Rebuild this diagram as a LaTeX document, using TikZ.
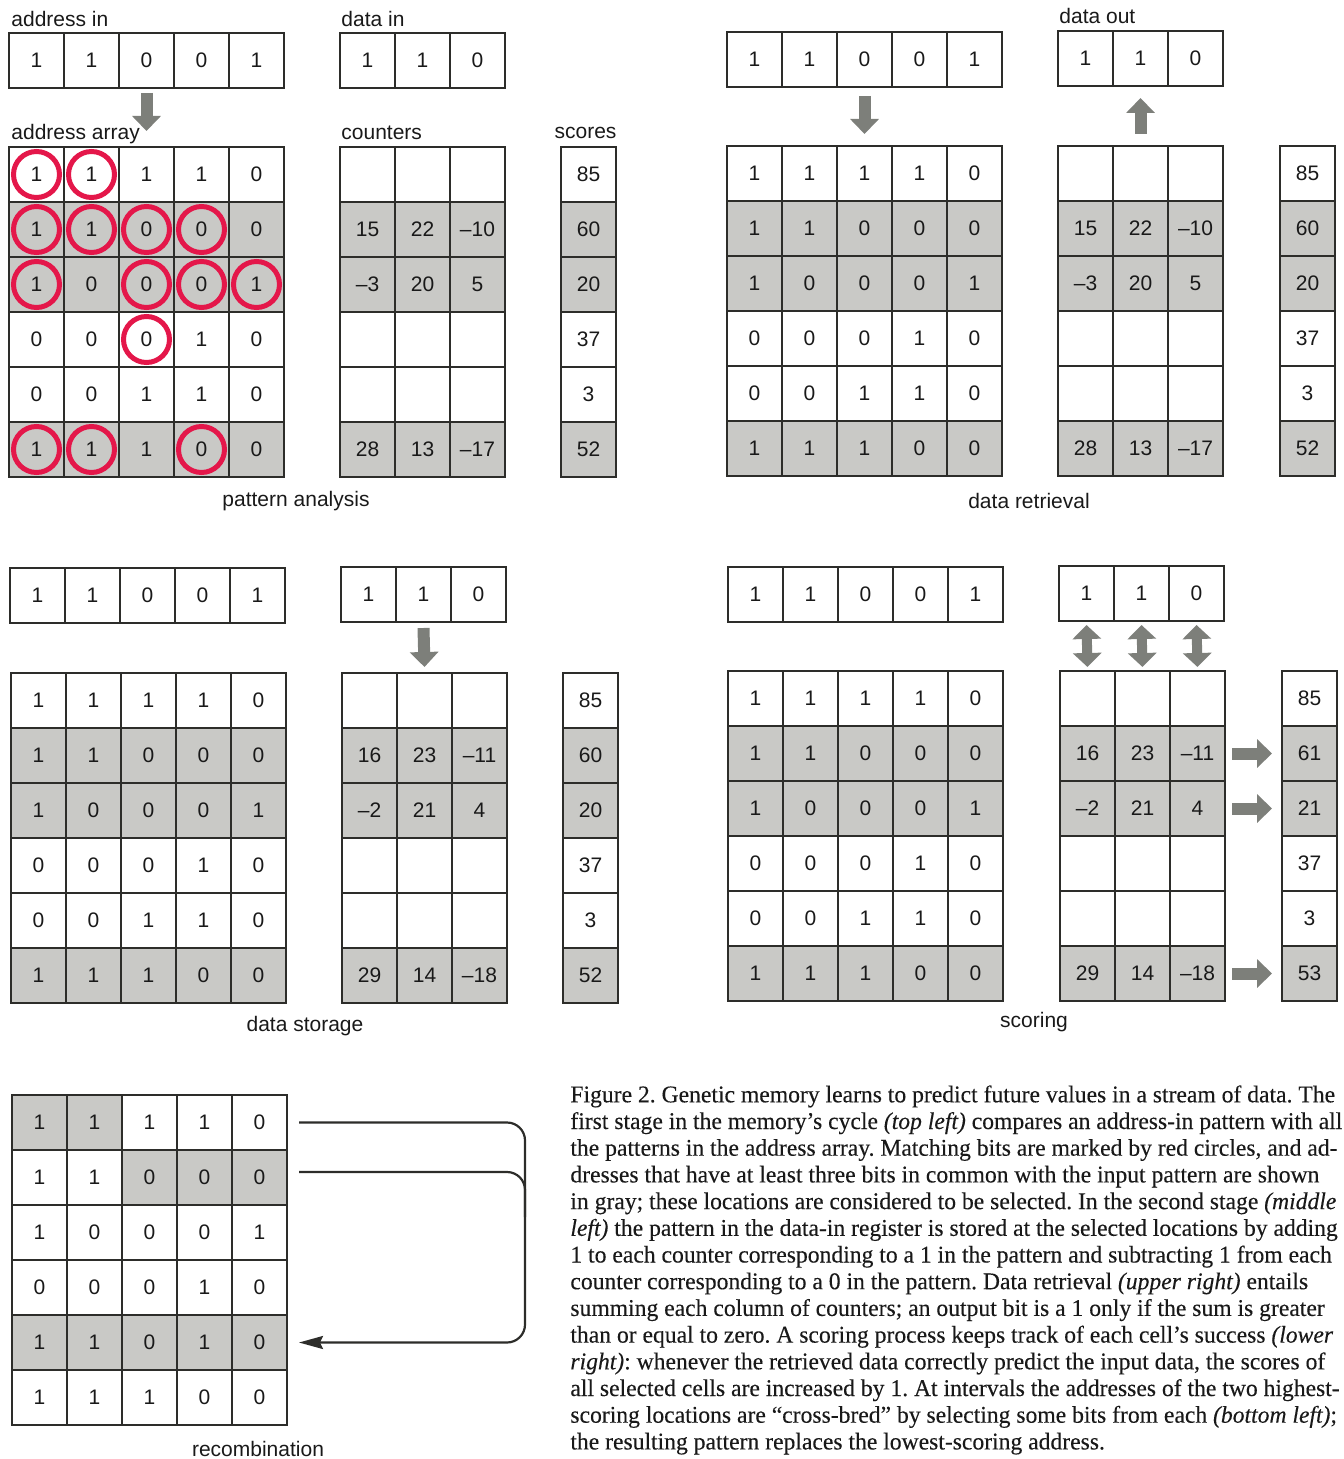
\documentclass[tikz,border=0pt]{standalone}
\usepackage{fontspec}
\setmainfont{Liberation Serif}
\setsansfont{Liberation Sans}
\newfontfamily\capfont[FakeStretch=0.984, FakeBold=0.25]{Liberation Serif}
\usepackage{tikz}
\usetikzlibrary{arrows.meta}
\usetikzlibrary{calc}

\definecolor{cellgray}{RGB}{201,201,198}
\definecolor{arrowgray}{RGB}{125,127,122}
\definecolor{ringred}{RGB}{228,23,74}
\definecolor{linegray}{RGB}{45,45,42}

\begin{document}
\begin{tikzpicture}[x=0.5pt, y=-0.5pt,
    cell/.style={draw=linegray, line width=1pt, minimum size=27.5pt, inner sep=0pt,
        text=black!90, font=\sffamily\fontsize{10.5}{12}\selectfont},
    lbl/.style={inner sep=0pt, text=black!90, font=\sffamily\fontsize{10.5}{12}\selectfont},
    ring/.style={draw=ringred, line width=2.5pt},
    fatarrow/.style={arrowgray, line width=6pt, -{Triangle[width=14pt, length=7.5pt]}},
    fatboth/.style={arrowgray, line width=5pt,
        {Triangle[width=14pt, length=7pt]}-{Triangle[width=14pt, length=7pt]}},
    recline/.style={linegray, line width=1.1pt, rounded corners=9pt},
    caption/.style={inner sep=0pt, align=left, text=black!90, font=\capfont\fontsize{12}{13.35}\selectfont\frenchspacing}
]

    \useasboundingbox (0,0) rectangle (1343,1459);

    % Input registers
    \foreach \p/\ox/\oy in {pa/9/33, dr/727/32, ds/10/568, sc/728/567} {
        \foreach \b [count=\c] in {1,1,0,0,1}
            \node[cell] (\p-in-\c) at (\ox+55*\c-27.5, \oy+27.5) {\b};
    }
    \foreach \p/\ox/\oy in {pa/340/33, dr/1058/31, ds/341/567, sc/1059/566} {
        \foreach \b [count=\c] in {1,1,0}
            \node[cell] (\p-dat-\c) at (\ox+55*\c-27.5, \oy+27.5) {\b};
    }

    % Address array, counters and scores of the four stages
    \foreach \p/\ox/\oy/\cx/\sx/\cnt/\scr in {
        pa/9/147/340/561/{{},{},{},15,22,\textendash10,\textendash3,20,5,{},{},{},{},{},{},28,13,\textendash17}/{85,60,20,37,3,52},
        dr/727/146/1058/1280/{{},{},{},15,22,\textendash10,\textendash3,20,5,{},{},{},{},{},{},28,13,\textendash17}/{85,60,20,37,3,52},
        ds/11/673/342/563/{{},{},{},16,23,\textendash11,\textendash2,21,4,{},{},{},{},{},{},29,14,\textendash18}/{85,60,20,37,3,52},
        sc/728/671/1060/1282/{{},{},{},16,23,\textendash11,\textendash2,21,4,{},{},{},{},{},{},29,14,\textendash18}/{85,61,21,37,3,53}} {
        % selected rows in gray
        \foreach \ry/\rh in {55/110, 275/55} {
            \fill[cellgray] (\ox,\oy+\ry) rectangle ++(275,\rh);
            \fill[cellgray] (\cx,\oy+\ry) rectangle ++(165,\rh);
            \fill[cellgray] (\sx,\oy+\ry) rectangle ++(55,\rh);
        }
        \foreach \row [count=\r] in {{1,1,1,1,0},{1,1,0,0,0},{1,0,0,0,1},{0,0,0,1,0},{0,0,1,1,0},{1,1,1,0,0}} {
            \foreach \b [count=\c] in \row
                \node[cell] (\p-\r-\c) at (\ox+55*\c-27.5, \oy+55*\r-27.5) {\b};
        }
        \foreach \v [count=\i from 0] in \cnt {
            \pgfmathtruncatemacro\r{\i/3+1}
            \pgfmathtruncatemacro\c{mod(\i,3)+1}
            \node[cell] (\p-cnt-\r-\c) at (\cx+55*\c-27.5, \oy+55*\r-27.5) {\v};
        }
        \foreach \s [count=\r] in \scr
            \node[cell] (\p-scr-\r) at (\sx+27.5, \oy+55*\r-27.5) {\s};
    }

    % Matching bits
    \foreach \r/\c in {1/1,1/2,2/1,2/2,2/3,2/4,3/1,3/3,3/4,3/5,4/3,6/1,6/2,6/4}
        \draw[ring] (pa-\r-\c.center) circle[radius=11.5pt];

    % Labels
    \node[lbl, anchor=base west] at ([xshift=1.5pt, yshift=2.5pt]pa-in-1.north west) {address in};
    \node[lbl, anchor=base west] at ([xshift=1pt, yshift=2.5pt]pa-dat-1.north west) {data in};
    \node[lbl, anchor=base west] at ([xshift=1.5pt, yshift=3pt]pa-1-1.north west) {address array};
    \node[lbl, anchor=base west] at ([xshift=1pt, yshift=3pt]pa-cnt-1-1.north west) {counters};
    \node[lbl, anchor=base] at ([xshift=-1.5pt, yshift=3.5pt]pa-scr-1.north) {scores};
    \node[lbl, anchor=base west] at ([xshift=1pt, yshift=3pt]dr-dat-1.north west) {data out};

    \node[lbl] (pa-title) at (296,501) {pattern analysis};
    \node[lbl] (dr-title) at (1029,501) {data retrieval};
    \node[lbl] (ds-title) at (305,1026) {data storage};
    \node[lbl] (sc-title) at (1034,1022) {scoring};

    % Transfer arrows
    \draw[fatarrow] ([yshift=-2pt]pa-in-3.south) -- ([yshift=7.5pt]pa-1-3.north);
    \draw[fatarrow] ([yshift=-4pt]dr-in-3.south) -- ([yshift=5.5pt]dr-1-3.north);
    \draw[fatarrow] ([yshift=5.5pt]dr-cnt-1-2.north) -- ([yshift=-5.5pt]dr-dat-2.south);
    \draw[fatarrow] ([yshift=-2.5pt]ds-dat-2.south) -- ([yshift=2.5pt]ds-cnt-1-2.north);
    \foreach \c in {1,2,3}
        \draw[fatboth] ([yshift=-1.5pt]sc-dat-\c.south) -- ([yshift=1.5pt]sc-cnt-1-\c.north);
    \foreach \r in {2,3,6}
        \draw[fatarrow] ([xshift=3pt]sc-cnt-\r-3.east) -- ([xshift=-4.5pt]sc-scr-\r.west);

    % Recombination
    \fill[cellgray] (12,1095) rectangle ++(110,55);
    \fill[cellgray] (122,1150) rectangle ++(165,55);
    \fill[cellgray] (12,1315) rectangle ++(275,55);
    \foreach \row [count=\r] in {{1,1,1,1,0},{1,1,0,0,0},{1,0,0,0,1},{0,0,0,1,0},{1,1,0,1,0},{1,1,1,0,0}} {
        \foreach \b [count=\c] in \row
            \node[cell] (rc-\r-\c) at (12+55*\c-27.5, 1095+55*\r-27.5) {\b};
    }
    \node[lbl] (rc-title) at (258,1449) {recombination};

    \coordinate (rail) at (525,1122);
    \coordinate (rec2) at ($(rc-2-5.east)+(5.5pt,2.75pt)$);
    \draw[recline] (rec2) -- (rail |- rec2) -- ($(rail |- rec2)+(0,45)$);
    \draw[recline, -{Stealth[length=12pt, width=6.5pt, inset=1.5pt]}]
        ([xshift=5.5pt]rc-1-5.east) -- (rail |- rc-1-5) -- (rail |- rc-5-5) -- ([xshift=5.5pt]rc-5-5.east);

    % Caption
    \node[caption, anchor=north west] (cap) at (570,1085) {%
        Figure 2. Genetic memory learns to predict future values in a stream of data. The\\
        first stage in the memory’s cycle \textit{(top left)} compares an address-in pattern with all\\
        the patterns in the address array. Matching bits are marked by red circles, and ad-\\
        dresses that have at least three bits in common with the input pattern are shown\\
        in gray; these locations are considered to be selected. In the second stage \textit{(middle}\\
        \textit{left)} the pattern in the data-in register is stored at the selected locations by adding\\
        1 to each counter corresponding to a 1 in the pattern and subtracting 1 from each\\
        counter corresponding to a 0 in the pattern. Data retrieval \textit{(upper right)} entails\\
        summing each column of counters; an output bit is a 1 only if the sum is greater\\
        than or equal to zero. A scoring process keeps track of each cell’s success \textit{(lower}\\
        \textit{right)}: whenever the retrieved data correctly predict the input data, the scores of\\
        all selected cells are increased by 1. At intervals the addresses of the two highest-\\
        scoring locations are “cross-bred” by selecting some bits from each \textit{(bottom left)};\\
        the resulting pattern replaces the lowest-scoring address.};

\end{tikzpicture}
\end{document}
